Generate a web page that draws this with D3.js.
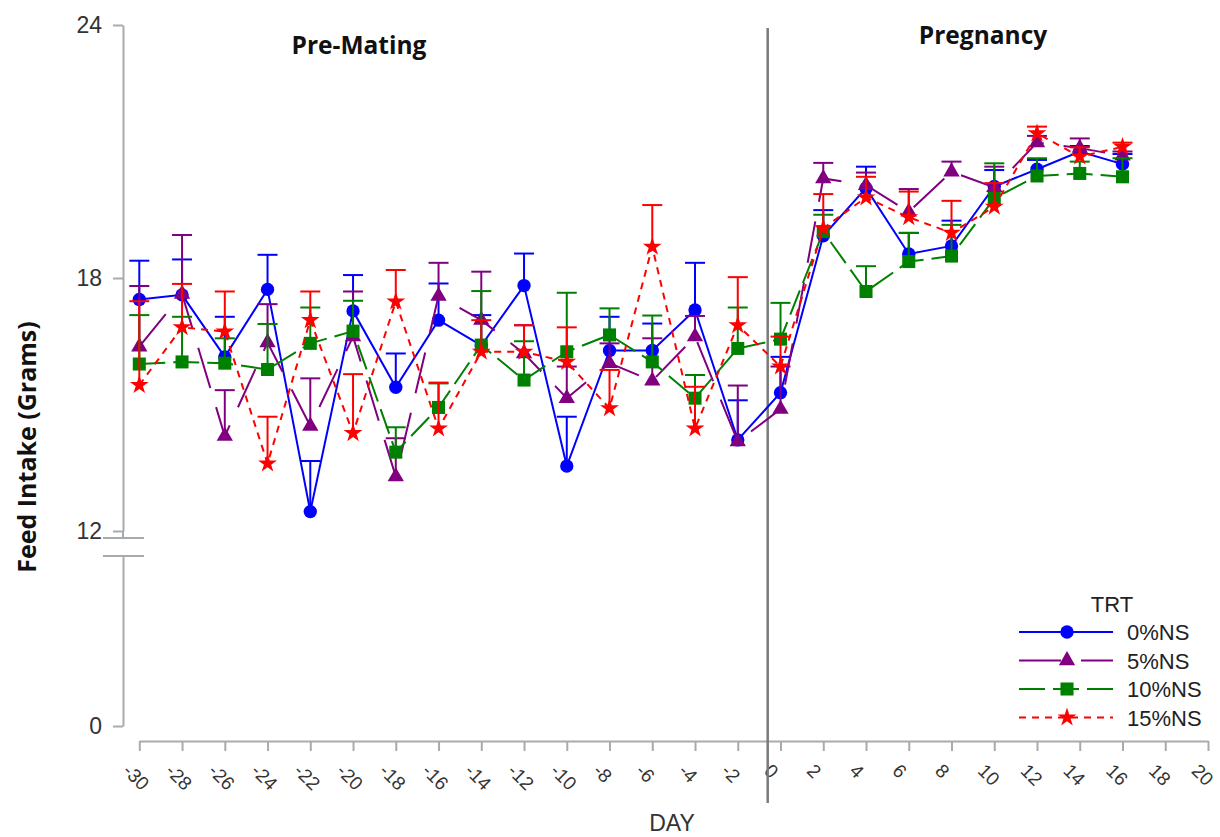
<!DOCTYPE html>
<html>
<head>
<meta charset="utf-8">
<script src="https://cdn.jsdelivr.net/npm/d3@7"></script>
<style>
  html, body { margin: 0; padding: 0; background: #fff; }
  svg { display: block; }
  .tick text { fill: #333; font-family: "Liberation Sans", Arial, sans-serif; }
</style>
</head>
<body>
<div id="chart"></div>
<script>
const days = [-30, -28, -26, -24, -22, -20, -18, -16, -14, -12, -10, -8, -6, -4, -2, 0, 2, 4, 6, 8, 10, 12, 14, 16];

// mean feed intake and upper error bar per treatment
const mean0 = [17.49, 17.6, 16.13, 17.73, 12.46, 17.22, 15.41, 17.0, 16.4, 17.82, 13.54, 16.28, 16.28, 17.24, 14.16, 15.28, 19.0, 20.13, 18.57, 18.76, 20.17, 20.58, 21.0, 20.7];
const upper0 = [18.41, 18.44, 17.08, 18.55, 13.66, 18.07, 16.21, 17.87, 17.12, 18.58, 14.71, 17.08, 16.92, 18.36, 15.1, 16.13, 19.61, 20.64, 19.07, 19.36, 20.56, 20.8, 21.13, 20.94];

const mean5 = [16.37, 17.62, 14.25, 16.47, 14.49, 16.61, 13.29, 17.57, 17.0, 16.21, 15.15, 15.98, 15.56, 16.61, 14.12, 14.89, 20.36, 20.2, 19.57, 20.52, 20.15, 21.21, 21.08, 20.9];
const upper5 = [17.81, 19.02, 15.34, 17.38, 15.62, 17.68, 14.2, 18.36, 18.15, 16.88, 15.9, 16.45, 16.57, 17.1, 15.45, 15.9, 20.73, 20.5, 20.11, 20.76, 20.64, 21.37, 21.31, 21.0];

const mean10 = [15.96, 16.01, 15.98, 15.83, 16.45, 16.74, 13.87, 14.93, 16.41, 15.58, 16.25, 16.65, 16.01, 15.15, 16.33, 16.55, 19.1, 17.68, 18.39, 18.52, 19.89, 20.42, 20.48, 20.4];
const upper10 = [17.12, 17.08, 16.57, 16.91, 17.3, 17.46, 14.46, 15.5, 17.69, 16.5, 17.65, 17.28, 17.11, 15.7, 17.3, 17.41, 19.5, 18.28, 19.07, 19.26, 20.72, 20.84, 20.76, 20.84];

const mean15 = [15.46, 16.83, 16.73, 13.6, 17.0, 14.32, 17.44, 14.43, 16.25, 16.25, 16.01, 14.91, 18.74, 14.43, 16.88, 15.9, 19.18, 19.91, 19.44, 19.07, 19.69, 21.43, 20.88, 21.11];
const upper15 = [17.45, 17.86, 17.68, 14.71, 17.68, 15.72, 18.19, 15.52, 17.0, 16.88, 16.83, 15.82, 19.73, 15.42, 18.02, 16.61, 19.99, 20.4, 20.05, 19.83, 20.25, 21.59, 21.1, 21.21];

const treatments = ['0%NS', '5%NS', '10%NS', '15%NS'];
const xTicks = d3.range(-30, 21, 2);
const yTicksUpper = [12, 18, 24];
const yTicksLower = [0];
const matingDay = -0.6;

const series = [
  { name: treatments[0], mean: mean0, upper: upper0, color: '#0000ff', dash: null, symbol: d3.symbolCircle, size: 140 },
  { name: treatments[1], mean: mean5, upper: upper5, color: '#800080', dash: '42 20', symbol: d3.symbolTriangle, size: 115 },
  { name: treatments[2], mean: mean10, upper: upper10, color: '#008000', dash: '26 8', symbol: d3.symbolSquare, size: 170 },
  { name: treatments[3], mean: mean15, upper: upper15, color: '#ff0000', dash: '7 6', symbol: d3.symbolStar, size: 110 }
];

const width = 1220, height = 837;
const svg = d3.select('#chart').append('svg')
  .attr('width', width)
  .attr('height', height);

const x = d3.scaleLinear().domain([-30, 20]).range([139.3, 1208]);
const y = d3.scaleLinear().domain([12, 24]).range([531, 25]);
const yLow = d3.scaleLinear().domain([0, 12]).range([726, 556]);

const axisColor = '#a7abaf';

// x axis
const xAxis = svg.append('g')
  .attr('transform', 'translate(0,741)')
  .call(d3.axisBottom(x).tickValues(xTicks).tickSize(10).tickSizeOuter(0).tickFormat(d3.format('d')));
xAxis.select('.domain').attr('stroke', axisColor).attr('stroke-width', 2);
xAxis.selectAll('.tick line').attr('stroke', axisColor).attr('stroke-width', 2);
xAxis.selectAll('.tick text')
  .attr('font-size', 19)
  .attr('text-anchor', 'start')
  .attr('y', 0)
  .attr('dy', 0)
  .attr('transform', 'translate(-18,31) rotate(45)')
  .text(d => String(d).replace('\u2212', '-'));

// y axis, upper segment
const yAxis = svg.append('g')
  .attr('transform', 'translate(123,0)')
  .call(d3.axisLeft(y).tickValues(yTicksUpper).tickSize(10).tickSizeOuter(0));
yAxis.select('.domain').attr('stroke', axisColor).attr('stroke-width', 2);
yAxis.selectAll('.tick line').attr('stroke', axisColor).attr('stroke-width', 2);
yAxis.selectAll('.tick text').attr('font-size', 23).attr('x', -21);

// y axis, lower segment
const yAxisLow = svg.append('g')
  .attr('transform', 'translate(123,0)')
  .call(d3.axisLeft(yLow).tickValues(yTicksLower).tickSize(10).tickSizeOuter(0));
yAxisLow.select('.domain').attr('stroke', axisColor).attr('stroke-width', 2);
yAxisLow.selectAll('.tick line').attr('stroke', axisColor).attr('stroke-width', 2);
yAxisLow.selectAll('.tick text').attr('font-size', 23).attr('x', -21);

// axis break
svg.append('line').attr('x1', 123).attr('x2', 123).attr('y1', 531).attr('y2', 538)
  .attr('stroke', axisColor).attr('stroke-width', 2);
[538, 556].forEach(v => {
  svg.append('line').attr('x1', 103).attr('x2', 144).attr('y1', v).attr('y2', v)
    .attr('stroke', axisColor).attr('stroke-width', 2);
});

// mating divider
svg.append('line')
  .attr('x1', x(matingDay)).attr('x2', x(matingDay))
  .attr('y1', 28).attr('y2', 803)
  .attr('stroke', '#7a7a7a').attr('stroke-width', 2.5);

// titles
const boldFont = '"Open Sans", "Liberation Sans", Arial, sans-serif';
svg.append('text').attr('x', 359).attr('y', 54).attr('text-anchor', 'middle')
  .attr('font-family', boldFont).attr('font-weight', 700).attr('font-size', 24.5)
  .attr('fill', '#111').text('Pre-Mating');
svg.append('text').attr('x', 983).attr('y', 44).attr('text-anchor', 'middle')
  .attr('font-family', boldFont).attr('font-weight', 700).attr('font-size', 24.5)
  .attr('fill', '#111').text('Pregnancy');
svg.append('text')
  .attr('transform', 'translate(36,447) rotate(-90)')
  .attr('text-anchor', 'middle')
  .attr('font-family', boldFont).attr('font-weight', 700).attr('font-size', 25)
  .attr('fill', '#111').text('Feed Intake (Grams)');
svg.append('text').attr('x', 672).attr('y', 831).attr('text-anchor', 'middle')
  .attr('font-family', '"Liberation Sans", Arial, sans-serif').attr('font-size', 23)
  .attr('fill', '#333').text('DAY');

// series
const plot = svg.append('g');
series.forEach(s => {
  const pts = days.map((d, i) => ({ day: d, mean: s.mean[i], upper: s.upper[i] }));
  const g = plot.append('g');

  g.selectAll('line.err')
    .data(pts)
    .join('line')
    .attr('class', 'err')
    .attr('x1', d => x(d.day)).attr('x2', d => x(d.day))
    .attr('y1', d => y(d.mean)).attr('y2', d => y(d.upper))
    .attr('stroke', s.color).attr('stroke-width', 2);

  g.selectAll('line.cap')
    .data(pts)
    .join('line')
    .attr('class', 'cap')
    .attr('x1', d => x(d.day) - 10).attr('x2', d => x(d.day) + 10)
    .attr('y1', d => y(d.upper)).attr('y2', d => y(d.upper))
    .attr('stroke', s.color).attr('stroke-width', 2);

  g.append('path')
    .datum(pts)
    .attr('fill', 'none')
    .attr('stroke', s.color)
    .attr('stroke-width', 2)
    .attr('stroke-dasharray', s.dash)
    .attr('d', d3.line().x(d => x(d.day)).y(d => y(d.mean)));

  g.selectAll('path.mark')
    .data(pts)
    .join('path')
    .attr('class', 'mark')
    .attr('transform', d => `translate(${x(d.day)},${y(d.mean)})`)
    .attr('d', d3.symbol().type(s.symbol).size(s.size))
    .attr('fill', s.color);
});

// legend
const legend = svg.append('g').attr('font-family', '"Liberation Sans", Arial, sans-serif').attr('fill', '#222');
legend.append('text').attr('x', 1112).attr('y', 612).attr('text-anchor', 'middle')
  .attr('font-size', 22).text('TRT');
series.forEach((s, i) => {
  const cy = 632 + i * 28.5;
  legend.append('line')
    .attr('x1', 1019).attr('x2', 1113).attr('y1', cy).attr('y2', cy)
    .attr('stroke', s.color).attr('stroke-width', 2)
    .attr('stroke-dasharray', s.dash);
  legend.append('path')
    .attr('transform', `translate(1067,${cy})`)
    .attr('d', d3.symbol().type(s.symbol).size(s.size))
    .attr('fill', s.color);
  legend.append('text').attr('x', 1127).attr('y', cy + 8)
    .attr('font-size', 22).attr('fill', '#222').text(s.name);
});
</script>
</body>
</html>
